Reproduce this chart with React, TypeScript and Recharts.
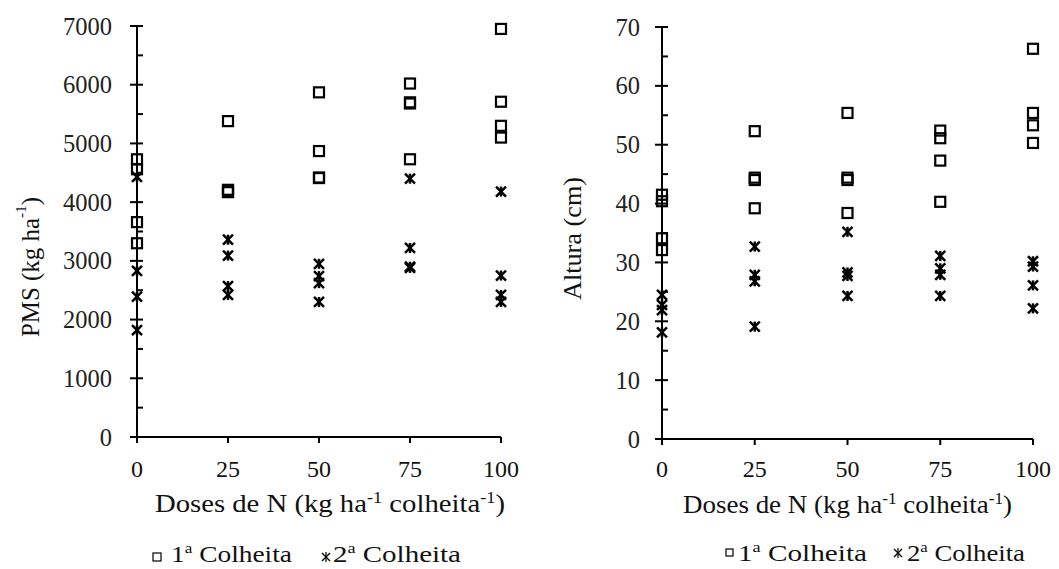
import React from 'react';
import { ScatterChart, Scatter, XAxis, YAxis, Label } from 'recharts';

const FONT = "'Liberation Serif', Tinos, 'Times New Roman', serif";
const TS: React.CSSProperties = { fontFamily: FONT };

const doses = [0, 25, 50, 75, 100];
const doseTicks = [0, 25, 50, 75, 100];

// PMS (kg ha-1)
const pmsColheita1 = [
  [4730, 4560, 3660, 3300],
  [5380, 4210, 4180, 4170],
  [5870, 4870, 4420, 4410],
  [6020, 5700, 5680, 4730],
  [6950, 5710, 5300, 5100],
];
const pmsColheita2 = [
  [4430, 2830, 2390, 1820],
  [3360, 3090, 2570, 2420],
  [2950, 2740, 2620, 2300],
  [4400, 3220, 2900, 2880],
  [4180, 2750, 2420, 2300],
];
const pmsTicks = [0, 500, 1000, 1500, 2000, 2500, 3000, 3500, 4000, 4500, 5000, 5500, 6000, 6500, 7000];

// Altura (cm)
const alturaColheita1 = [
  [41.5, 40.4, 34.1, 32.1],
  [52.3, 44.4, 44.0, 39.2],
  [55.4, 44.4, 44.0, 38.4],
  [52.4, 51.1, 47.3, 40.3],
  [66.3, 55.4, 53.3, 50.3],
];
const alturaColheita2 = [
  [24.5, 22.8, 21.9, 18.1],
  [32.7, 27.9, 26.8, 19.1],
  [35.2, 28.3, 27.7, 24.3],
  [31.1, 29.0, 27.9, 24.3],
  [30.2, 29.3, 26.1, 22.2],
];
const alturaTicks = [0, 5, 10, 15, 20, 25, 30, 35, 40, 45, 50, 55, 60, 65, 70];

const toPoints = (vals: number[][]) =>
  vals.flatMap((row, i) => row.map((v) => ({ x: doses[i], y: v })));

const SquareMark = (props: any) => {
  const { cx, cy } = props;
  if (cx == null || cy == null) return null;
  return <rect x={cx - 5} y={cy - 5} width={10} height={10} fill="none" stroke="#000" strokeWidth={2.2} />;
};

const StarMark = (props: any) => {
  const { cx, cy } = props;
  if (cx == null || cy == null) return null;
  const r = 5;
  return (
    <g stroke="#000" strokeWidth={2.5}>
      <line x1={cx - r} y1={cy - r} x2={cx + r} y2={cy + r} />
      <line x1={cx - r} y1={cy + r} x2={cx + r} y2={cy - r} />
      <line x1={cx} y1={cy - r} x2={cx} y2={cy + r} />
    </g>
  );
};

const makeYTick = (majorStep: number, gap: number) => (props: any) => {
  const { x, y, payload } = props;
  const v = payload.value;
  const major = v % majorStep === 0;
  return (
    <g>
      <line x1={major ? x - 7 : x} y1={y} x2={x + 6} y2={y} stroke="#000" strokeWidth={2} />
      {major && (
        <text x={x - gap} y={y} textAnchor="end" dominantBaseline="central" style={TS} fontSize={24.5} fill="#222">
          {v}
        </text>
      )}
    </g>
  );
};

const makeXTick = (base: number) => (props: any) => {
  const { x, y, payload } = props;
  return (
    <g>
      <line x1={x} y1={y} x2={x} y2={y + 6} stroke="#000" strokeWidth={2} />
      <text x={x} y={y + base} textAnchor="middle" style={TS} fontSize={24} fill="#111">
        {payload.value}
      </text>
    </g>
  );
};

const XTitle = ({ cx, y, len }: { cx: number; y: number; len: number }) => (
  <text
    x={cx}
    y={y}
    textAnchor="middle"
    style={TS}
    fontSize={25}
    fill="#111"
    textLength={len}
    lengthAdjust="spacingAndGlyphs"
  >
    Doses de N (kg ha
    <tspan dy={-9} fontSize={16}>-1</tspan>
    <tspan dy={9}> colheita</tspan>
    <tspan dy={-9} fontSize={16}>-1</tspan>
    <tspan dy={9}>)</tspan>
  </text>
);

const Ord = ({ n }: { n: string }) => (
  <>
    {n}
    <tspan dy={-9} fontSize={15}>a</tspan>
    <tspan dy={9}> Colheita</tspan>
  </>
);

type LegendProps = {
  sq: [number, number, number];
  t1: [number, number, number];
  st: [number, number];
  t2: [number, number];
  fs: number;
};

const LegendBlock = ({ sq, t1, st, t2, fs }: LegendProps) => (
  <svg style={{ position: 'absolute', left: 0, top: 0 }} width={1059} height={569}>
    <rect x={sq[0]} y={sq[1]} width={sq[2]} height={sq[2]} fill="none" stroke="#000" strokeWidth={1.2} />
    <text x={t1[0]} y={t1[1]} style={TS} fontSize={fs} fill="#111" textLength={t1[2]} lengthAdjust="spacingAndGlyphs">
      <Ord n="1" />
    </text>
    <g stroke="#000" strokeWidth={1.2}>
      <line x1={st[0] - 4} y1={st[1] - 4} x2={st[0] + 4} y2={st[1] + 4} />
      <line x1={st[0] - 4} y1={st[1] + 4} x2={st[0] + 4} y2={st[1] - 4} />
      <line x1={st[0]} y1={st[1] - 5} x2={st[0]} y2={st[1] + 5} />
    </g>
    <text x={t2[0]} y={t1[1]} style={TS} fontSize={fs} fill="#111" textLength={t2[1]} lengthAdjust="spacingAndGlyphs">
      <Ord n="2" />
    </text>
  </svg>
);

export default function App() {
  const axisLine = { stroke: '#000', strokeWidth: 2 };
  return (
    <div style={{ position: 'absolute', left: 0, top: 0, width: 1059, height: 569, background: '#fff', fontFamily: FONT }}>
      <div style={{ position: 'absolute', left: 0, top: 0 }}>
        <ScatterChart width={530} height={569} margin={{ top: 26, right: 29, bottom: 0, left: 0 }}>
          <XAxis
            type="number"
            dataKey="x"
            domain={[0, 100]}
            ticks={doseTicks}
            interval={0}
            tickSize={0}
            tickMargin={0}
            tickLine={false}
            axisLine={axisLine}
            tick={makeXTick(40)}
            height={132}
          >
            <Label content={() => <XTitle cx={330} y={512} len={350} />} />
          </XAxis>
          <YAxis
            type="number"
            dataKey="y"
            domain={[0, 7000]}
            ticks={pmsTicks}
            interval={0}
            tickSize={0}
            tickMargin={0}
            tickLine={false}
            axisLine={axisLine}
            tick={makeYTick(1000, 25)}
            width={137}
          >
            <Label
              content={() => (
                <text
                  x={30}
                  y={267}
                  transform="rotate(-90 30 267)"
                  textAnchor="middle"
                  dominantBaseline="central"
                  style={TS}
                  fontSize={24.5}
                  fill="#111"
                  textLength={140}
                  lengthAdjust="spacingAndGlyphs"
                >
                  PMS (kg ha
                  <tspan dy={-9} fontSize={15}>-1</tspan>
                  <tspan dy={9}>)</tspan>
                </text>
              )}
            />
          </YAxis>
          <Scatter name="1ª Colheita" data={toPoints(pmsColheita1)} shape={SquareMark} isAnimationActive={false} />
          <Scatter name="2ª Colheita" data={toPoints(pmsColheita2)} shape={StarMark} isAnimationActive={false} />
        </ScatterChart>
      </div>
      <div style={{ position: 'absolute', left: 530, top: 0 }}>
        <ScatterChart width={529} height={569} margin={{ top: 27, right: 26, bottom: 0, left: 0 }}>
          <XAxis
            type="number"
            dataKey="x"
            domain={[0, 100]}
            ticks={doseTicks}
            interval={0}
            tickSize={0}
            tickMargin={0}
            tickLine={false}
            axisLine={axisLine}
            tick={makeXTick(38)}
            height={130}
          >
            <Label content={() => <XTitle cx={317.5} y={513} len={329} />} />
          </XAxis>
          <YAxis
            type="number"
            dataKey="y"
            domain={[0, 70]}
            ticks={alturaTicks}
            interval={0}
            tickSize={0}
            tickMargin={0}
            tickLine={false}
            axisLine={axisLine}
            tick={makeYTick(10, 22)}
            width={132}
          >
            <Label
              content={() => (
                <text
                  x={42}
                  y={238.5}
                  transform="rotate(-90 42 238.5)"
                  textAnchor="middle"
                  dominantBaseline="central"
                  style={TS}
                  fontSize={24.5}
                  fill="#111"
                  textLength={123}
                  lengthAdjust="spacingAndGlyphs"
                >
                  Altura (cm)
                </text>
              )}
            />
          </YAxis>
          <Scatter name="1ª Colheita" data={toPoints(alturaColheita1)} shape={SquareMark} isAnimationActive={false} />
          <Scatter name="2ª Colheita" data={toPoints(alturaColheita2)} shape={StarMark} isAnimationActive={false} />
        </ScatterChart>
      </div>
      <LegendBlock sq={[153, 553, 8]} t1={[171, 562, 121]} st={[326, 557]} t2={[333, 128]} fs={24} />
      <LegendBlock sq={[726, 549, 7]} t1={[738, 561, 129]} st={[898, 553]} t2={[907, 118]} fs={24} />
    </div>
  );
}
